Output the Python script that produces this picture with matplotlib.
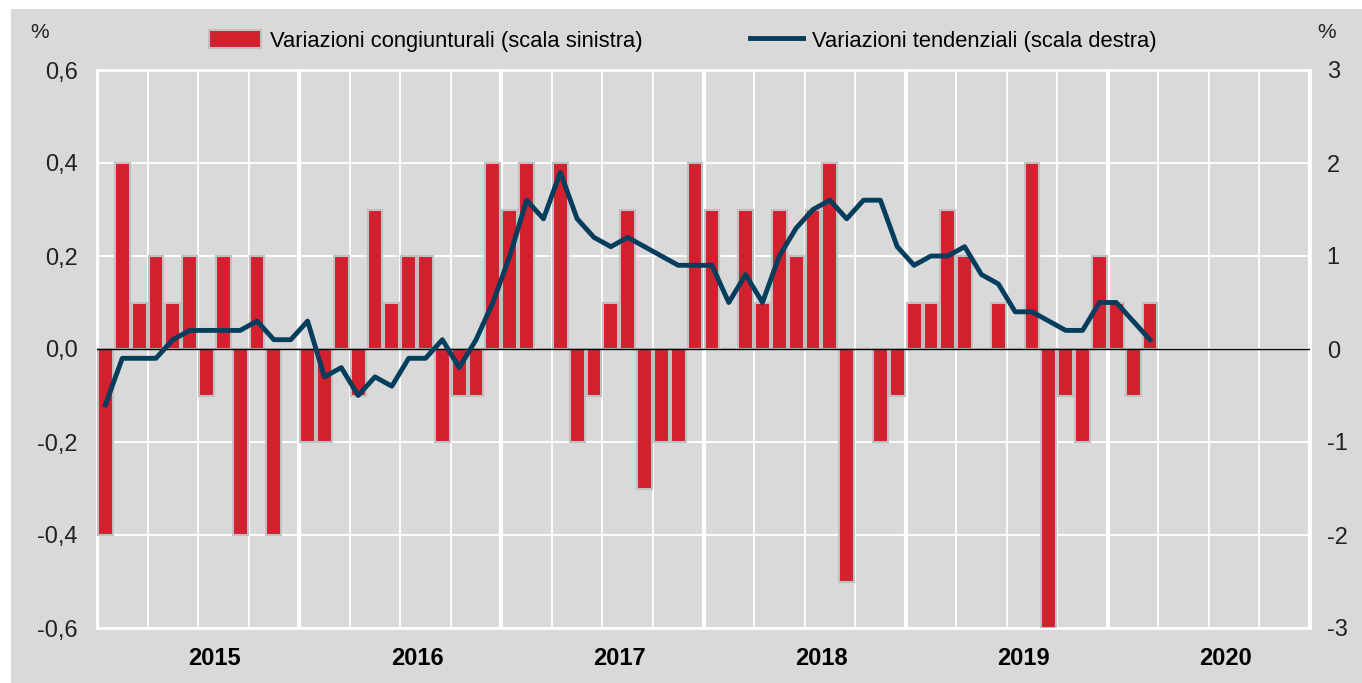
import matplotlib
matplotlib.use("Agg")
import matplotlib.pyplot as plt
import numpy as np
from matplotlib.patches import Patch, Rectangle
from matplotlib.lines import Line2D

plt.rcParams['font.family'] = ['Liberation Sans', 'DejaVu Sans']

years = ['2015', '2016', '2017', '2018', '2019', '2020']

# variazioni congiunturali (scala sinistra), gen 2015 - mar 2020
cong = [-0.4, 0.4, 0.1, 0.2, 0.1, 0.2, -0.1, 0.2, -0.4, 0.2, -0.4, 0.0,
        -0.2, -0.2, 0.2, -0.1, 0.3, 0.1, 0.2, 0.2, -0.2, -0.1, -0.1, 0.4,
        0.3, 0.4, 0.0, 0.4, -0.2, -0.1, 0.1, 0.3, -0.3, -0.2, -0.2, 0.4,
        0.3, 0.0, 0.3, 0.1, 0.3, 0.2, 0.3, 0.4, -0.5, 0.0, -0.2, -0.1,
        0.1, 0.1, 0.3, 0.2, 0.0, 0.1, 0.0, 0.4, -0.6, -0.1, -0.2, 0.2,
        0.1, -0.1, 0.1]

# variazioni tendenziali (scala destra)
tend = [-0.6, -0.1, -0.1, -0.1, 0.1, 0.2, 0.2, 0.2, 0.2, 0.3, 0.1, 0.1,
        0.3, -0.3, -0.2, -0.5, -0.3, -0.4, -0.1, -0.1, 0.1, -0.2, 0.1, 0.5,
        1.0, 1.6, 1.4, 1.9, 1.4, 1.2, 1.1, 1.2, 1.1, 1.0, 0.9, 0.9,
        0.9, 0.5, 0.8, 0.5, 1.0, 1.3, 1.5, 1.6, 1.4, 1.6, 1.6, 1.1,
        0.9, 1.0, 1.0, 1.1, 0.8, 0.7, 0.4, 0.4, 0.3, 0.2, 0.2, 0.5,
        0.5, 0.3, 0.1]

left_ticks = [-0.6, -0.4, -0.2, 0.0, 0.2, 0.4, 0.6]
right_ticks = [-3, -2, -1, 0, 1, 2, 3]

RED = '#d2202f'
NAVY = '#053d5c'
BG = '#d9d9d9'

fig = plt.figure(figsize=(13.62, 6.83), dpi=100, facecolor='white')
fig.patches.append(Rectangle((11 / 1362, 0.0), 1 - 11 / 1362, (683 - 9) / 683,
                             transform=fig.transFigure, facecolor=BG,
                             edgecolor='none', zorder=-10))

ax = fig.add_axes([97 / 1362, 55 / 683, (1310 - 97) / 1362, (628 - 70) / 683])
ax.set_facecolor(BG)

n_months = 12 * len(years)
x = np.arange(len(cong))
ax.bar(x, cong, width=0.88, color=RED, edgecolor='#c0c0c0', linewidth=1.5, zorder=3)

ax.set_xlim(-0.5, n_months - 0.5)
ax.set_ylim(-0.6, 0.6)
ax.set_axisbelow(True)

# grid: trimestri sottili, anni spessi
for m in range(0, n_months + 1, 3):
    lw = 3 if m % 12 == 0 else 1.3
    ax.axvline(m - 0.5, color='white', lw=lw, zorder=1)
for v in left_ticks:
    ax.axhline(v, color='white', lw=1.3, zorder=1)
ax.axhline(0, color='black', lw=1, zorder=4)

for s in ax.spines.values():
    s.set_color('white')
    s.set_linewidth(2)

ax.set_yticks(left_ticks)
ax.set_yticklabels([('%.1f' % v).replace('.', ',') for v in left_ticks])
ax.tick_params(axis='y', length=0, labelsize=17, pad=14, colors='#222222')
ax.set_xticks([12 * i + 6.5 for i in range(len(years))])
ax.set_xticklabels(years, fontweight='bold', fontsize=17)
ax.tick_params(axis='x', length=0, pad=14)

ax2 = ax.twinx()
ax2.plot(x, tend, color=NAVY, lw=3.5, zorder=5)
ax2.set_ylim(-3, 3)
ax2.set_yticks(right_ticks)
ax2.set_yticklabels([str(v) for v in right_ticks])
ax2.tick_params(axis='y', length=0, labelsize=17, pad=12, colors='#222222')
for s in ax2.spines.values():
    s.set_visible(False)

fig.text(40 / 1362, 1 - 33 / 683, '%', fontsize=15, ha='center', va='center', color='#222222')
fig.text(1327 / 1362, 1 - 33 / 683, '%', fontsize=15, ha='center', va='center', color='#222222')

handles = [Patch(facecolor=RED, edgecolor='#c0c0c0', linewidth=1.5),
           Line2D([0], [0], color=NAVY, lw=3.5)]
labels = ['Variazioni congiunturali (scala sinistra)',
          'Variazioni tendenziali (scala destra)']
fig.legend(handles, labels, loc='center', bbox_to_anchor=(0.501, 1 - 41 / 683),
           ncol=2, frameon=False, fontsize=15.8, handlelength=2.4, handleheight=0.9,
           columnspacing=4.9, handletextpad=0.4, borderaxespad=0, borderpad=0)

fig.savefig('out.png', dpi=100, facecolor='white')
